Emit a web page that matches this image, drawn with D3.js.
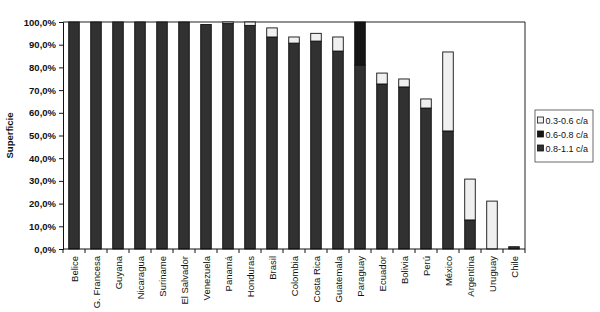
<!DOCTYPE html>
<html>
<head>
<meta charset="utf-8">
<script src="https://cdn.jsdelivr.net/npm/d3@7"></script>
<style>
  body { margin: 0; background: #fff; }
  svg text { font-family: Arial, "Liberation Sans", sans-serif; fill: #111; }
</style>
</head>
<body>
<svg width="600" height="312"></svg>
<script>
// categories and series (% of surface)
const countries = ["Belice", "G. Francesa", "Guyana", "Nicaragua", "Suriname", "El Salvador",
  "Venezuela", "Panamá", "Honduras", "Brasil", "Colombia", "Costa Rica", "Guatemala",
  "Paraguay", "Ecuador", "Bolivia", "Perú", "México", "Argentina", "Uruguay", "Chile"];
const high = [100, 100, 100, 100, 100, 100, 98.9, 99.3, 98.5, 93.4, 90.7, 91.6, 87.2,
  81, 72.7, 71.4, 62.1, 52, 12.8, 0, 1];          // 0.8-1.1 c/a
const mid = [0, 0, 0, 0, 0, 0, 0, 0, 0, 0, 0, 0, 0,
  19, 0, 0, 0, 0, 0, 0, 0];                        // 0.6-0.8 c/a
const low = [0, 0, 0, 0, 0, 0, 0, 0.7, 1.5, 4, 2.7, 3.4, 6.2,
  0, 4.8, 3.5, 4, 34.8, 18, 21.1, 0];              // 0.3-0.6 c/a
const seriesNames = ["0.8-1.1 c/a", "0.6-0.8 c/a", "0.3-0.6 c/a"];
const yTicks = [0, 10, 20, 30, 40, 50, 60, 70, 80, 90, 100];

const svg = d3.select("svg");
const mLeft = 63, mRight = 525, mTop = 22, mBottom = 249;

const rows = countries.map((c, i) => ({ name: c, high: high[i], mid: mid[i], low: low[i] }));
const stack = d3.stack().keys(["high", "mid", "low"])(rows);

const x = d3.scaleBand().domain(countries).range([mLeft, mRight]).paddingInner(0.52).paddingOuter(0.26);
const y = d3.scaleLinear().domain([0, 100]).range([mBottom, mTop]);
const color = d3.scaleOrdinal().domain(["high", "mid", "low"]).range(["#313131", "#151515", "#f0f0f0"]);

// frame (top & right)
svg.append("path")
  .attr("d", `M${mLeft},${mTop}H${mRight}V${mBottom}`)
  .attr("fill", "none").attr("stroke", "#222").attr("stroke-width", 1);

// bars
svg.append("g")
  .selectAll("g")
  .data(stack)
  .join("g")
  .attr("fill", d => color(d.key))
  .selectAll("rect")
  .data(d => d.filter(s => s[1] - s[0] > 0))
  .join("rect")
  .attr("x", d => x(d.data.name))
  .attr("width", x.bandwidth())
  .attr("y", d => y(d[1]))
  .attr("height", d => y(d[0]) - y(d[1]))
  .attr("stroke", "#111")
  .attr("stroke-width", 0.9);

// y axis
const yAxis = svg.append("g")
  .attr("transform", `translate(${mLeft},0)`)
  .call(d3.axisLeft(y).tickValues(yTicks).tickSize(4).tickPadding(3)
    .tickFormat(d => d3.format(".1f")(d).replace(".", ",") + "%"));
yAxis.selectAll("text").attr("font-size", 9.5).style("font-weight", "bold");

// x axis with ticks between categories
const xAxis = svg.append("g").attr("transform", `translate(0,${mBottom})`);
xAxis.append("line").attr("x1", mLeft).attr("x2", mRight).attr("stroke", "#111");
xAxis.selectAll("line.t")
  .data(d3.range(countries.length + 1))
  .join("line")
  .attr("class", "t")
  .attr("x1", i => mLeft + i * x.step())
  .attr("x2", i => mLeft + i * x.step())
  .attr("y2", 4)
  .attr("stroke", "#111");
xAxis.selectAll("text")
  .data(countries)
  .join("text")
  .attr("transform", d => `translate(${x(d) + x.bandwidth() / 2 + 3.5},7) rotate(-90)`)
  .attr("text-anchor", "end")
  .attr("font-size", 9.5)
  .text(d => d);

svg.selectAll(".domain").attr("stroke", "#111");
svg.selectAll(".tick line").attr("stroke", "#111");

// y title
svg.append("text")
  .attr("transform", `translate(13,${(mTop + mBottom) / 2}) rotate(-90)`)
  .attr("text-anchor", "middle")
  .attr("font-size", 9.5)
  .attr("font-weight", "bold")
  .text("Superficie");

// legend
const legend = svg.append("g").attr("transform", "translate(535,110)");
legend.append("rect").attr("width", 58).attr("height", 52)
  .attr("fill", "#fff").attr("stroke", "#444").attr("stroke-width", 0.8);
const legendKeys = ["low", "mid", "high"];
const legendLabels = [seriesNames[2], seriesNames[1], seriesNames[0]];
legendKeys.forEach((k, i) => {
  const g = legend.append("g").attr("transform", `translate(2.5,${7 + i * 14})`);
  g.append("rect").attr("width", 6).attr("height", 6)
    .attr("fill", color(k)).attr("stroke", "#111").attr("stroke-width", 0.8);
  g.append("text").attr("x", 8).attr("y", 6.5).attr("font-size", 9).text(legendLabels[i]);
});
</script>
</body>
</html>
